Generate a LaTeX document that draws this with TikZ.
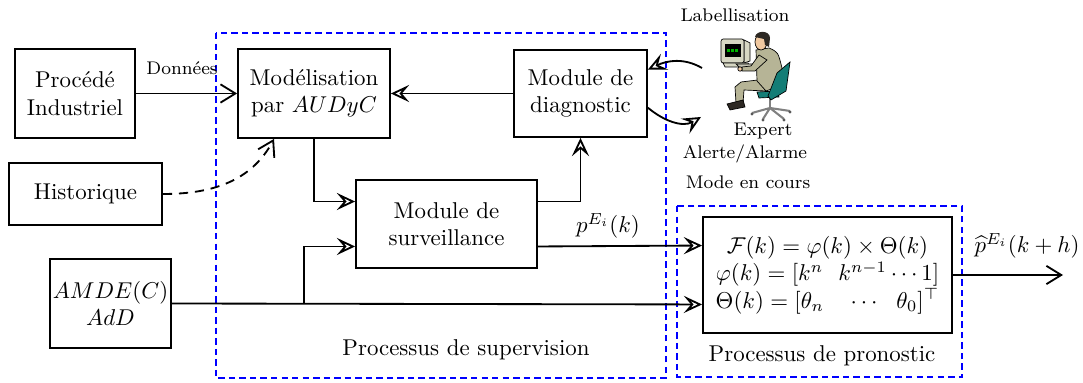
\documentclass[tikz,border=0pt]{standalone}
\usetikzlibrary{arrows.meta,calc}
\definecolor{suit}{RGB}{182,180,150}
\definecolor{skin}{RGB}{240,200,160}
\definecolor{hair}{RGB}{45,40,35}
\definecolor{seat}{RGB}{20,125,118}
\definecolor{case}{RGB}{215,215,195}
\begin{document}
\begin{tikzpicture}[x=0.437pt,y=-0.437pt,
  box/.style={draw,line width=0.8pt,align=center,inner sep=1pt},
  wire/.style={line width=0.8pt},
  openhead/.style={wire,-{Stealth[open,fill=white,length=8pt,width=7.5pt,inset=3.2pt]}},
  barbhead/.style={wire,-{Straight Barb[length=6.5pt,width=8pt]}},
  frame/.style={draw=blue,line width=0.65pt,dash pattern=on 2.8pt off 1.8pt},
  note/.style={font=\footnotesize,inner sep=1pt},
  outline/.style={draw=black,line width=0.3pt}]
\useasboundingbox (0,0) rectangle (1083,383);

% process frames
\draw[frame] (216,33) rectangle (666,378);
\draw[frame] (677,206) rectangle (962,377);
\node (lblSup) at (466,350) {Processus de supervision};
\node (lblPro) at (822,356) {Processus de pronostic};

% blocks
\node[box,minimum width=52.4pt,minimum height=38.9pt] (proc) at (75,93.5) {Procédé\\Industriel};
\node[box,minimum width=66.9pt,minimum height=27.1pt] (hist) at (85.5,194) {Historique};
\node[box,minimum width=52.9pt,minimum height=38.9pt] (amde) at (110.5,303.5) {$AMDE(C)$\\$AdD$};
\node[box,minimum width=66.4pt,minimum height=38.9pt] (mod) at (314,93.5) {Modélisation\\par $AUDyC$};
\node[box,minimum width=58.1pt,minimum height=38pt] (diag) at (580.5,93.5) {Module de\\diagnostic};
\node[box,minimum width=79.1pt,minimum height=38.5pt] (surv) at (446.5,224) {Module de\\surveillance};
\node[box,minimum width=108.8pt,minimum height=50.7pt] (pro) at (827.5,275)
  {$\mathcal{F}(k)=\varphi(k)\times\Theta(k)$\\
   $\varphi(k)=[k^{n}\ \ k^{n-1}\cdots1]$\\
   $\Theta(k)=[\theta_{n}\ \ \ \cdots\ \ \theta_{0}]^{\top}$};

% anchor points on block sides
\coordinate (survInA) at ($(surv.north west)!0.25!(surv.south west)$);
\coordinate (survInB) at ($(surv.north west)!0.75!(surv.south west)$);
\coordinate (survOutA) at ($(surv.north east)!0.25!(surv.south east)$);
\coordinate (survOutB) at ($(surv.north east)!0.75!(surv.south east)$);
\coordinate (proInA) at ($(pro.north west)!0.25!(pro.south west)$);
\coordinate (proInB) at ($(pro.north west)!0.75!(pro.south west)$);
\coordinate (modIn) at ($(mod.south west)!0.24!(mod.south east)$);
\coordinate (diagIn) at ($(diag.north east)!0.23!(diag.south east)$);
\coordinate (diagOut) at ($(diag.north east)!0.66!(diag.south east)$);
\coordinate (branch) at (304,303.5);
\coordinate (expIn) at (701,117);
\coordinate (expOut) at (702,68);
\coordinate (result) at (1063,275);

% connectors
\draw[barbhead] (proc.east) -- (mod.west);
\node[note] (lblDon) at (182,68) {Données};
\draw[openhead] (diag.west) -- (mod.east);
\draw[barbhead,dashed,dash pattern=on 4pt off 3pt] (hist.east) to[out=0,in=-118] (modIn);
\draw[openhead] (mod.south) |- (survInA);
\draw[openhead] (survOutA) -| (diag.south);
\draw[openhead] (survOutB) -- (proInA);
\node (lblP) at (608,226) {$p^{E_i}(k)$};
\draw[openhead] (amde.east) -- (proInB);
\draw[openhead] (branch) |- (survInB);
\draw[barbhead] (pro.east) -- (result);
\node (lblOut) at (1027,246) {$\widehat{p}^{E_i}(k+h)$};

% exchanges with the expert
\draw[openhead] (expOut) to[out=150,in=25] (diagIn);
\draw[openhead] (diagOut) to[out=-40,in=-150] (expIn);

% expert at the workstation
\begin{scope}
  % monitor
  \filldraw[fill=case,outline] (744,40) -- (750,43) -- (750,61) -- (744,63) -- cycle;
  \filldraw[fill=case,outline,rounded corners=1pt] (721,39) rectangle (744,63);
  \fill[black] (725,44) rectangle (741,57);
  \draw[green!70!black,line width=1.2pt,dash pattern=on 1.2pt off 0.6pt] (727,50.5) -- (739,50.5);
  \filldraw[fill=case,outline] (723,63) -- (748,63) -- (750,67) -- (725,67) -- cycle;
  % keyboard
  \filldraw[fill=case!80!gray,outline] (736,64) -- (757,64) -- (761,68) -- (740,68) -- cycle;
  % chair
  \draw[gray,line width=1.2pt] (770,97) -- (770,108);
  \draw[gray,line width=0.9pt] (770,108) -- (752,113) (770,108) -- (763,119)
       (770,108) -- (784,119) (770,108) -- (790,111);
  \foreach \p in {(752,114),(763,120),(784,120),(790,112)} \fill[gray!70!black] \p circle (1.6);
  \filldraw[fill=seat,outline] (757,92) -- (777,91) -- (779,97) -- (759,98) -- cycle;
  % legs and shoe
  \filldraw[fill=suit,outline] (758,80) -- (741,82) -- (735,87) -- (736,103) -- (743,103) -- (744,90) -- (766,91) -- cycle;
  \filldraw[fill=hair,outline] (727,104) -- (743,100) -- (745,107) -- (730,110) -- cycle;
  % torso
  \filldraw[fill=suit,outline] (756,50) -- (769,48) .. controls (778,52) .. (782,68) -- (780,86) -- (766,91) -- (757,81) -- cycle;
  % chair back
  \filldraw[fill=seat,outline] (777,73) -- (790,62) -- (786,91) -- (771,100) -- (768,96) -- cycle;
  % arm and hand
  \filldraw[fill=suit,outline] (759,55) -- (751,66) -- (742,67) -- (742,71) -- (755,71) -- (767,60) -- cycle;
  \filldraw[fill=skin,outline] (740,69) circle (2.2);
  % head
  \filldraw[fill=skin,outline] (761,42) ellipse (6 and 8);
  \fill[hair] (755,37) .. controls (756,30) and (770,30) .. (770,38) -- (769,47) -- (765,45) -- (764,39) -- cycle;
\end{scope}
\node[note] (lblLab) at (735,15) {Labellisation};
\node[note] (lblExp) at (763,131) {Expert};
\node[note] (lblAl) at (745,154) {Alerte/Alarme};
\node[note] (lblMode) at (748,182) {Mode en cours};
\end{tikzpicture}
\end{document}
